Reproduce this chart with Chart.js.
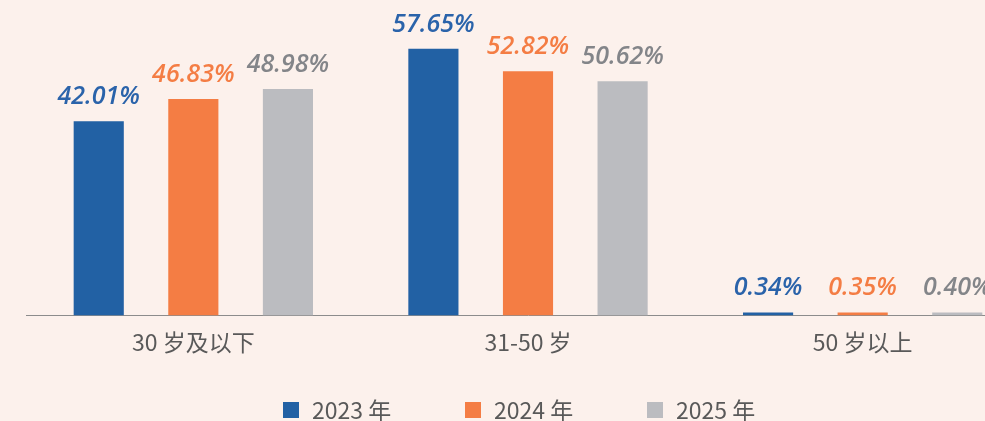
<!DOCTYPE html>
<html>
<head>
<meta charset="utf-8">
<script src="https://cdn.jsdelivr.net/npm/chart.js@4"></script>
<style>
    html, body { margin: 0; padding: 0; background: #fcf1ec; overflow: hidden; }
    #wrap { position: absolute; left: 0; top: 0; width: 1056px; height: 421px; }
</style>
</head>
<body>
<div id="wrap"><canvas id="barras"></canvas></div>
<script>
const categories = ["30 岁及以下", "31-50 岁", "50 岁以上"];
const seriesNames = ["2023 年", "2024 年", "2025 年"];
const values2023 = [42.01, 57.65, 0.34];
const values2024 = [46.83, 52.82, 0.35];
const values2025 = [48.98, 50.62, 0.40];

const barColors = ["#2261a4", "#f47d44", "#bbbcc0"];
const labelColors = ["#2a63aa", "#f47d44", "#838589"];

// value labels above every bar
const valueLabels = {
    id: "valueLabels",
    afterDatasetsDraw(chart) {
        const ctx = chart.ctx;
        ctx.save();
        ctx.font = 'italic 600 25px "Open Sans"';
        ctx.textAlign = "center";
        ctx.textBaseline = "alphabetic";
        chart.data.datasets.forEach((ds, i) => {
            chart.getDatasetMeta(i).data.forEach((bar, j) => {
                ctx.fillStyle = labelColors[i];
                ctx.fillText(ds.data[j].toFixed(2) + "%", bar.x, bar.y - 17);
            });
        });
        ctx.restore();
    }
};

// legend drawn by hand so the wide gaps don't eat the chart height
const bottomLegend = {
    id: "bottomLegend",
    afterDraw(chart) {
        const ctx = chart.ctx;
        const area = chart.chartArea;
        ctx.save();
        ctx.font = '23px "Noto Sans CJK SC"';
        ctx.textBaseline = "middle";
        const step = 182;
        let x = (area.left + area.right) / 2 - 245;
        seriesNames.forEach((name, i) => {
            ctx.fillStyle = barColors[i];
            ctx.fillRect(x, 402, 16, 16);
            ctx.fillStyle = "#595959";
            ctx.fillText(name, x + 29, 410);
            x += step;
        });
        ctx.restore();
    }
};

new Chart(document.getElementById("barras"), {
    type: "bar",
    data: {
        labels: categories,
        datasets: [
            { label: seriesNames[0], data: values2023, backgroundColor: barColors[0] },
            { label: seriesNames[1], data: values2024, backgroundColor: barColors[1] },
            { label: seriesNames[2], data: values2025, backgroundColor: barColors[2] }
        ]
    },
    options: {
        responsive: true,
        maintainAspectRatio: false,
        animation: false,
        categoryPercentage: 0.848,
        barPercentage: 0.53,
        minBarLength: 3,
        layout: {
            padding: { left: 26, right: 26, top: 38, bottom: 60 }
        },
        plugins: {
            legend: { display: false },
            tooltip: { enabled: false }
        },
        scales: {
            x: {
                grid: { display: false },
                border: { display: true, color: "#8c8c8c", width: 1 },
                ticks: {
                    color: "#595959",
                    padding: 5,
                    font: { family: '"Noto Sans CJK SC"', size: 23 }
                }
            },
            y: {
                display: false,
                min: 0,
                max: 60
            }
        }
    },
    plugins: [valueLabels, bottomLegend]
});
</script>
</body>
</html>
